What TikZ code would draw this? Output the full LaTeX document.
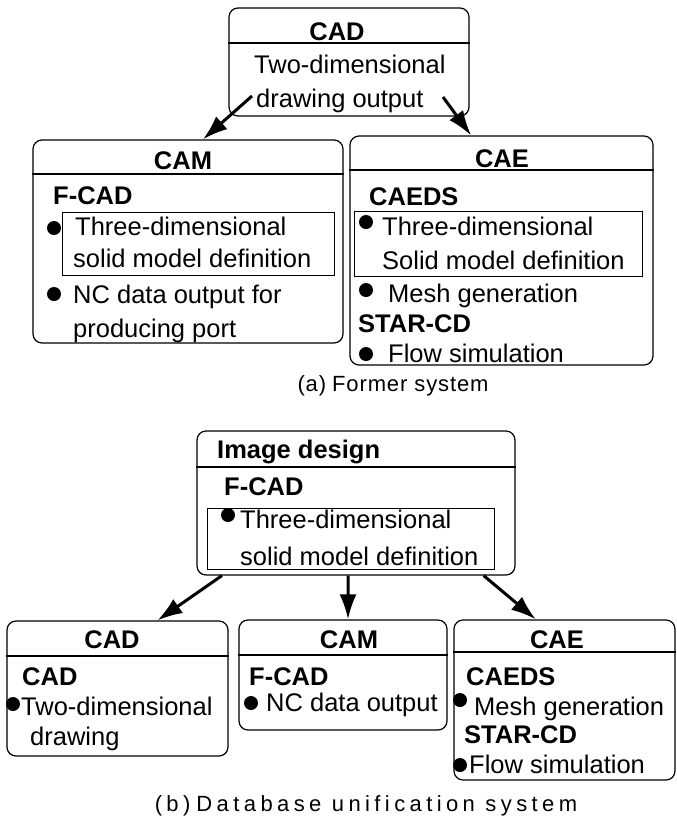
\documentclass[tikz,border=0pt]{standalone}
\usepackage{fontspec}
\setmainfont{Liberation Sans}
\newfontfamily\capfonta[LetterSpace=4]{Liberation Sans}
\newfontfamily\capfontb[LetterSpace=20]{Liberation Sans}
\usetikzlibrary{arrows.meta,calc}

\begin{document}
\begin{tikzpicture}
  [x=1pt, y=-1pt,
   box/.style={draw, rounded corners=9pt, line width=1.2pt, inner sep=0pt},
   inbox/.style={draw, line width=0.9pt},
   rule/.style={line width=1.2pt},
   head/.style={anchor=base, inner sep=0pt, font=\fontsize{25.5}{30}\selectfont\bfseries},
   txt/.style={anchor=base west, inner sep=0pt, font=\fontsize{25.5}{30}\selectfont},
   sub/.style={anchor=base west, inner sep=0pt, font=\fontsize{25.5}{30}\selectfont\bfseries},
   dot/.style={fill, circle, inner sep=0pt, minimum size=14pt},
   capt/.style={anchor=base, inner sep=0pt},
   link/.style={line width=3pt, -{Latex[length=25pt, width=17pt]}}]
  \useasboundingbox (0,0) rectangle (677,823);

  % (a) former system
  \node[box, minimum width=240pt, minimum height=108pt] (cadA) at (349,62) {};
  \draw[rule] (cadA.west |- 0,43) -- (cadA.east |- 0,43);
  \node[head] (cadA-t) at (337,40) {CAD};
  \node[txt] (cadA-1) at (254,73) {Two-dimensional};
  \node[txt] (cadA-2) at (256,107) {drawing output};

  \node[box, minimum width=310pt, minimum height=203pt] (camA) at (188,241.5) {};
  \draw[rule] (camA.west |- 0,174) -- (camA.east |- 0,174);
  \node[head] (camA-t) at (183,169) {CAM};
  \node[sub] (camA-s) at (53,204) {F-CAD};
  \draw[inbox] (62,212) rectangle (334,275);
  \node[dot] (camA-d1) at (54,228) {};
  \node[txt] (camA-1) at (75,235) {Three-dimensional};
  \node[txt] (camA-2) at (73,267) {solid model definition};
  \node[dot] (camA-d2) at (54,294) {};
  \node[txt] (camA-3) at (73,303) {NC data output for};
  \node[txt] (camA-4) at (73,337) {producing port};

  \node[box, minimum width=303pt, minimum height=229pt] (caeA) at (501.5,250.5) {};
  \draw[rule] (caeA.west |- 0,170) -- (caeA.east |- 0,170);
  \node[head] (caeA-t) at (502,167) {CAE};
  \node[sub] (caeA-s1) at (369,205) {CAEDS};
  \draw[inbox] (354,211) rectangle (642,276);
  \node[dot] (caeA-d1) at (366,222) {};
  \node[txt] (caeA-1) at (382,235) {Three-dimensional};
  \node[txt] (caeA-2) at (382,269) {Solid model definition};
  \node[dot] (caeA-d2) at (366,290) {};
  \node[txt] (caeA-3) at (388,302) {Mesh generation};
  \node[sub] (caeA-s2) at (358,332) {STAR-CD};
  \node[dot] (caeA-d3) at (366,354) {};
  \node[txt] (caeA-4) at (388,362) {Flow simulation};

  \coordinate (cadA-l) at (252,96);
  \coordinate (cadA-r) at (443,97);
  \draw[link] (cadA-l) -- ($(camA.north west)!0.548!(camA.north east)$);
  \draw[link] (cadA-r) -- ($(caeA.north west)!0.40!(caeA.north east)$);

  \node[capt] (capA) at (393,391) {\fontsize{22}{26}\capfonta (a)\hspace{6pt}Former system};

  % (b) database unification system
  \node[box, minimum width=318pt, minimum height=144pt] (imgB) at (356,503) {};
  \draw[rule] (imgB.west |- 0,467) -- (imgB.east |- 0,467);
  \node[sub] (imgB-t) at (217,458) {Image design};
  \node[sub] (imgB-s) at (224,495) {F-CAD};
  \draw[inbox] (207,508) rectangle (494,569);
  \node[dot] (imgB-d) at (228,515) {};
  \node[txt] (imgB-1) at (240,528) {Three-dimensional};
  \node[txt] (imgB-2) at (240,565) {solid model definition};

  \node[box, minimum width=221pt, minimum height=135pt] (cadB) at (117.5,688.5) {};
  \draw[rule] (cadB.west |- 0,656) -- (cadB.east |- 0,656);
  \node[head] (cadB-t) at (112,648) {CAD};
  \node[sub] (cadB-s) at (22,685) {CAD};
  \node[dot] (cadB-d) at (13,704) {};
  \node[txt] (cadB-1) at (21,715) {Two-dimensional};
  \node[txt] (cadB-2) at (30,745) {drawing};

  \node[box, minimum width=208pt, minimum height=110pt] (camB) at (343,675) {};
  \draw[rule] (camB.west |- 0,655) -- (camB.east |- 0,655);
  \node[head] (camB-t) at (349,648) {CAM};
  \node[sub] (camB-s) at (249,685) {F-CAD};
  \node[dot] (camB-d) at (251,703) {};
  \node[txt] (camB-1) at (266,711) {NC data output};

  \node[box, minimum width=221pt, minimum height=160pt] (caeB) at (564.5,700) {};
  \draw[rule] (caeB.west |- 0,652) -- (caeB.east |- 0,652);
  \node[head] (caeB-t) at (557,648) {CAE};
  \node[sub] (caeB-s1) at (466,685) {CAEDS};
  \node[dot] (caeB-d1) at (460,700) {};
  \node[txt] (caeB-1) at (474,715) {Mesh generation};
  \node[sub] (caeB-s2) at (464,743) {STAR-CD};
  \node[dot] (caeB-d2) at (460,765) {};
  \node[txt] (caeB-2) at (469,773) {Flow simulation};

  \draw[link] ($(imgB.south west)!0.08!(imgB.south east)$) -- ($(cadB.north west)!0.68!(cadB.north east)$);
  \draw[link] ($(imgB.south west)!0.475!(imgB.south east)$) -- ($(camB.north west)!0.524!(camB.north east)$);
  \draw[link] ($(imgB.south west)!0.90!(imgB.south east)$) -- ($(caeB.north west)!0.371!(caeB.north east)$);

  \node[capt] (capB) at (366,811) {\fontsize{22}{26}\capfontb (b)\hspace{6pt}Database unification system};
\end{tikzpicture}
\end{document}
